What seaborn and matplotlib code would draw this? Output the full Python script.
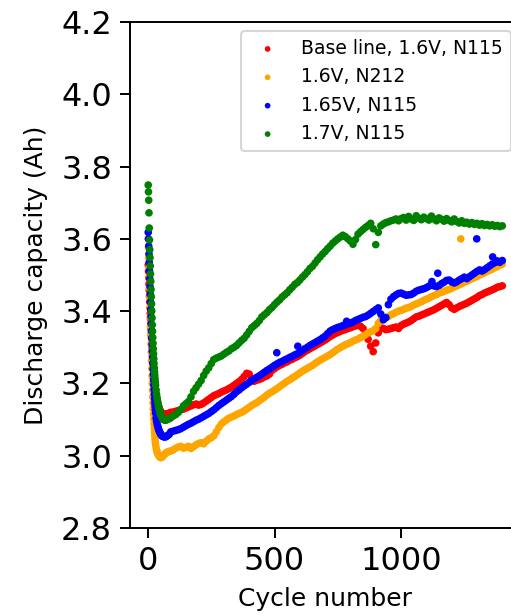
import numpy as np
import pandas as pd
import matplotlib
matplotlib.use("Agg")
import matplotlib.pyplot as plt
import seaborn as sns

# ---------------- data ----------------
cycles = ([1, 2, 3, 4, 5, 6, 7, 8, 9, 10, 11, 12, 13, 14, 15, 16, 17, 18, 19, 20,
           21, 22, 23, 24, 25, 26, 27, 28, 29, 30,
           32, 34, 36, 38, 40, 42, 44, 46, 48, 50, 52, 54, 56, 58,
           60, 64, 68, 72, 76, 80, 85]
          + list(range(90, 1401, 10)))

red_values = [
    3.528, 3.510, 3.492, 3.475, 3.458, 3.441, 3.425, 3.409, 3.394, 3.379,
    3.365, 3.351, 3.338, 3.325, 3.312, 3.300, 3.288, 3.277, 3.266, 3.256,
    3.246, 3.237, 3.228, 3.220, 3.212, 3.205, 3.198, 3.191, 3.185, 3.179,
    3.170, 3.162, 3.155, 3.148, 3.142, 3.137, 3.132, 3.128, 3.125, 3.122, 3.120, 3.118, 3.117, 3.116,
    3.115, 3.114, 3.114, 3.115, 3.116, 3.117, 3.118,
    3.120, 3.121, 3.123, 3.125, 3.127, 3.129, 3.132, 3.135, 3.138, 3.141,
    3.143, 3.140, 3.142, 3.146, 3.151, 3.156, 3.161, 3.166, 3.169, 3.172,
    3.176, 3.179, 3.182, 3.186, 3.190, 3.195, 3.200, 3.205, 3.211, 3.219,
    3.228, 3.226, 3.214, 3.206, 3.209, 3.211, 3.214, 3.218, 3.221, 3.226,
    3.236, 3.241, 3.246, 3.250, 3.253, 3.257, 3.260, 3.264, 3.267, 3.271,
    3.274, 3.278, 3.283, 3.288, 3.292, 3.296, 3.300, 3.304, 3.308, 3.312,
    3.316, 3.320, 3.325, 3.330, 3.334, 3.338, 3.341, 3.344, 3.347, 3.349,
    3.352, 3.354, 3.357, 3.359, 3.361, 3.358, 3.352, 3.340, 3.322, 3.303,
    3.288, 3.312, 3.340, 3.354, 3.352, 3.349, 3.350, 3.352, 3.354, 3.356,
    3.352, 3.360, 3.364, 3.367, 3.370, 3.374, 3.379, 3.384, 3.386, 3.389,
    3.392, 3.395, 3.398, 3.401, 3.404, 3.408, 3.412, 3.416, 3.420, 3.424,
    3.418, 3.409, 3.405, 3.409, 3.413, 3.416, 3.419, 3.422, 3.426, 3.430,
    3.434, 3.438, 3.443, 3.446, 3.450, 3.453, 3.456, 3.459, 3.462, 3.466,
    3.468, 3.470,
]

orange_values = [
    3.600, 3.575, 3.548, 3.520, 3.492, 3.464, 3.437, 3.410, 3.384, 3.358,
    3.333, 3.309, 3.286, 3.263, 3.241, 3.220, 3.200, 3.181, 3.163, 3.146,
    3.130, 3.115, 3.101, 3.088, 3.076, 3.065, 3.055, 3.046, 3.038, 3.031,
    3.022, 3.016, 3.011, 3.007, 3.004, 3.001, 2.999, 2.997, 2.996, 2.995, 2.995, 2.996, 2.997, 2.998,
    3.000, 3.003, 3.006, 3.008, 3.010, 3.011, 3.012,
    3.013, 3.016, 3.021, 3.024, 3.026, 3.021, 3.023, 3.026, 3.020, 3.025,
    3.030, 3.034, 3.036, 3.033, 3.040, 3.046, 3.050, 3.055, 3.066, 3.078,
    3.088, 3.094, 3.099, 3.104, 3.107, 3.110, 3.114, 3.117, 3.120, 3.124,
    3.129, 3.134, 3.139, 3.143, 3.147, 3.152, 3.157, 3.162, 3.168, 3.173,
    3.177, 3.181, 3.186, 3.191, 3.196, 3.201, 3.206, 3.210, 3.215, 3.219,
    3.224, 3.229, 3.234, 3.238, 3.242, 3.246, 3.250, 3.255, 3.260, 3.264,
    3.268, 3.272, 3.276, 3.280, 3.285, 3.290, 3.295, 3.299, 3.303, 3.307,
    3.310, 3.313, 3.317, 3.320, 3.323, 3.327, 3.330, 3.335, 3.340, 3.343,
    3.346, 3.352, 3.366, 3.375, 3.378, 3.382, 3.385, 3.390, 3.393, 3.397,
    3.400, 3.402, 3.405, 3.408, 3.410, 3.413, 3.417, 3.420, 3.423, 3.426,
    3.430, 3.433, 3.436, 3.440, 3.443, 3.446, 3.450, 3.452, 3.455, 3.458,
    3.460, 3.463, 3.467, 3.470, 3.473, 3.476, 3.480, 3.483, 3.486, 3.490,
    3.493, 3.496, 3.500, 3.503, 3.506, 3.510, 3.513, 3.516, 3.520, 3.523,
    3.527, 3.530,
]

blue_values = [
    3.618, 3.600, 3.580, 3.558, 3.535, 3.512, 3.490, 3.468, 3.447, 3.426,
    3.405, 3.385, 3.365, 3.345, 3.326, 3.308, 3.290, 3.273, 3.256, 3.240,
    3.225, 3.210, 3.196, 3.183, 3.170, 3.158, 3.147, 3.137, 3.127, 3.118,
    3.104, 3.096, 3.089, 3.083, 3.078, 3.073, 3.069, 3.066, 3.063, 3.060, 3.058, 3.056, 3.055, 3.054,
    3.053, 3.052, 3.052, 3.053, 3.055, 3.057, 3.060,
    3.066, 3.068, 3.070, 3.072, 3.075, 3.079, 3.083, 3.087, 3.090, 3.094,
    3.098, 3.101, 3.105, 3.109, 3.113, 3.117, 3.122, 3.127, 3.133, 3.139,
    3.144, 3.149, 3.154, 3.159, 3.164, 3.170, 3.177, 3.182, 3.188, 3.193,
    3.198, 3.203, 3.208, 3.213, 3.217, 3.221, 3.226, 3.231, 3.236, 3.240,
    3.245, 3.250, 3.254, 3.258, 3.261, 3.265, 3.268, 3.272, 3.275, 3.279,
    3.282, 3.286, 3.291, 3.296, 3.300, 3.305, 3.309, 3.313, 3.317, 3.321,
    3.326, 3.331, 3.338, 3.345, 3.349, 3.352, 3.355, 3.357, 3.360, 3.362,
    3.365, 3.367, 3.370, 3.374, 3.377, 3.380, 3.383, 3.385, 3.389, 3.394,
    3.399, 3.404, 3.409, 3.392, 3.376, 3.382, 3.418, 3.433, 3.440, 3.445,
    3.449, 3.450, 3.447, 3.444, 3.445, 3.446, 3.450, 3.455, 3.458, 3.460,
    3.462, 3.465, 3.469, 3.472, 3.470, 3.468, 3.471, 3.476, 3.480, 3.485,
    3.486, 3.481, 3.478, 3.481, 3.486, 3.490, 3.494, 3.490, 3.495, 3.500,
    3.505, 3.510, 3.514, 3.511, 3.515, 3.520, 3.525, 3.530, 3.534, 3.539,
    3.535, 3.540,
]

green_values = [
    3.749, 3.730, 3.707, 3.672, 3.630, 3.597, 3.570, 3.548, 3.525, 3.503,
    3.482, 3.460, 3.440, 3.420, 3.400, 3.381, 3.362, 3.344, 3.327, 3.311,
    3.296, 3.282, 3.268, 3.255, 3.243, 3.232, 3.222, 3.212, 3.203, 3.195,
    3.182, 3.170, 3.160, 3.151, 3.143, 3.136, 3.130, 3.124, 3.119, 3.115, 3.111, 3.108, 3.105, 3.103,
    3.101, 3.099, 3.098, 3.099, 3.100, 3.102, 3.103,
    3.105, 3.110, 3.114, 3.120, 3.128, 3.138, 3.144, 3.150, 3.163, 3.178,
    3.188, 3.198, 3.208, 3.222, 3.234, 3.243, 3.255, 3.266, 3.270, 3.273,
    3.276, 3.281, 3.286, 3.290, 3.296, 3.300, 3.305, 3.312, 3.319, 3.325,
    3.334, 3.344, 3.354, 3.360, 3.366, 3.374, 3.384, 3.390, 3.396, 3.404,
    3.410, 3.418, 3.425, 3.431, 3.439, 3.445, 3.451, 3.459, 3.466, 3.474,
    3.479, 3.486, 3.494, 3.501, 3.509, 3.518, 3.524, 3.533, 3.542, 3.550,
    3.558, 3.565, 3.573, 3.580, 3.588, 3.594, 3.600, 3.605, 3.610, 3.606,
    3.600, 3.594, 3.585, 3.598, 3.613, 3.620, 3.626, 3.632, 3.637, 3.643,
    3.628, 3.584, 3.618, 3.636, 3.641, 3.645, 3.647, 3.650, 3.652, 3.655,
    3.650, 3.656, 3.659, 3.652, 3.662, 3.655, 3.651, 3.664, 3.657, 3.653,
    3.660, 3.656, 3.652, 3.663, 3.655, 3.650, 3.658, 3.654, 3.649, 3.656,
    3.651, 3.647, 3.655, 3.648, 3.644, 3.650, 3.643, 3.646, 3.641, 3.645,
    3.640, 3.643, 3.638, 3.642, 3.637, 3.640, 3.636, 3.639, 3.635, 3.637,
    3.634, 3.636,
]

# isolated points standing off the main bands
orange_extra_cycles = [1236]
orange_extra_values = [3.600]
blue_extra_cycles = [509, 592, 785, 1122, 1145, 1299, 1362]
blue_extra_values = [3.285, 3.303, 3.372, 3.482, 3.505, 3.600, 3.550]

series_names = ["Base line, 1.6V, N115", "1.6V, N212", "1.65V, N115", "1.7V, N115"]
series_colors = ["red", "orange", "blue", "green"]

x_ticks = [0, 500, 1000]
y_ticks = [2.8, 3.0, 3.2, 3.4, 3.6, 3.8, 4.0, 4.2]

# ---------------- build tables ----------------
frames = [
    pd.DataFrame({"cycle": cycles, "cap": red_values}),
    pd.DataFrame({"cycle": cycles + orange_extra_cycles,
                  "cap": orange_values + orange_extra_values}),
    pd.DataFrame({"cycle": cycles + blue_extra_cycles,
                  "cap": blue_values + blue_extra_values}),
    pd.DataFrame({"cycle": cycles, "cap": green_values}),
]

# ---------------- plot ----------------
sns.set_style("ticks")
plt.rcParams["font.family"] = ["DejaVu Sans"]
plt.rcParams["text.color"] = "black"
plt.rcParams["axes.labelcolor"] = "black"
plt.rcParams["xtick.color"] = "black"
plt.rcParams["ytick.color"] = "black"
plt.rcParams["axes.edgecolor"] = "black"

fig = plt.figure(figsize=(5.11, 6.16), dpi=100)
ax = fig.add_axes([130 / 511, 88 / 616, 390 / 511, 506 / 616])

for df, name, col in zip(frames, series_names, series_colors):
    sns.scatterplot(data=df, x="cycle", y="cap", color=col, s=30,
                    linewidth=0, edgecolor="none", label=name, ax=ax,
                    legend=False)

ax.set_xlim(-71, 1470)
ax.set_ylim(2.8, 4.2)
ax.set_xticks(x_ticks)
ax.set_yticks(y_ticks)
ax.set_yticklabels([f"{v:.1f}" for v in y_ticks])

ax.set_xlabel("Cycle number", fontsize=18, labelpad=7, color="black")
ax.set_ylabel("Discharge capacity (Ah)", fontsize=18, labelpad=9, color="black")
ax.tick_params(axis="both", labelsize=23, length=7, width=1.4, pad=6,
               direction="out", color="black", labelcolor="black")
for side in ["left", "bottom", "top", "right"]:
    ax.spines[side].set_visible(True)
    ax.spines[side].set_linewidth(1.4)
    ax.spines[side].set_color("black")

leg = ax.legend(loc="upper right", fontsize=13.5, frameon=True,
                handletextpad=0.8, borderaxespad=0.5, markerscale=0.75)
leg.get_frame().set_linewidth(1.5)
leg.get_frame().set_edgecolor("#cccccc")
for t in leg.get_texts():
    t.set_color("black")

fig.savefig("out.png", dpi=100)
